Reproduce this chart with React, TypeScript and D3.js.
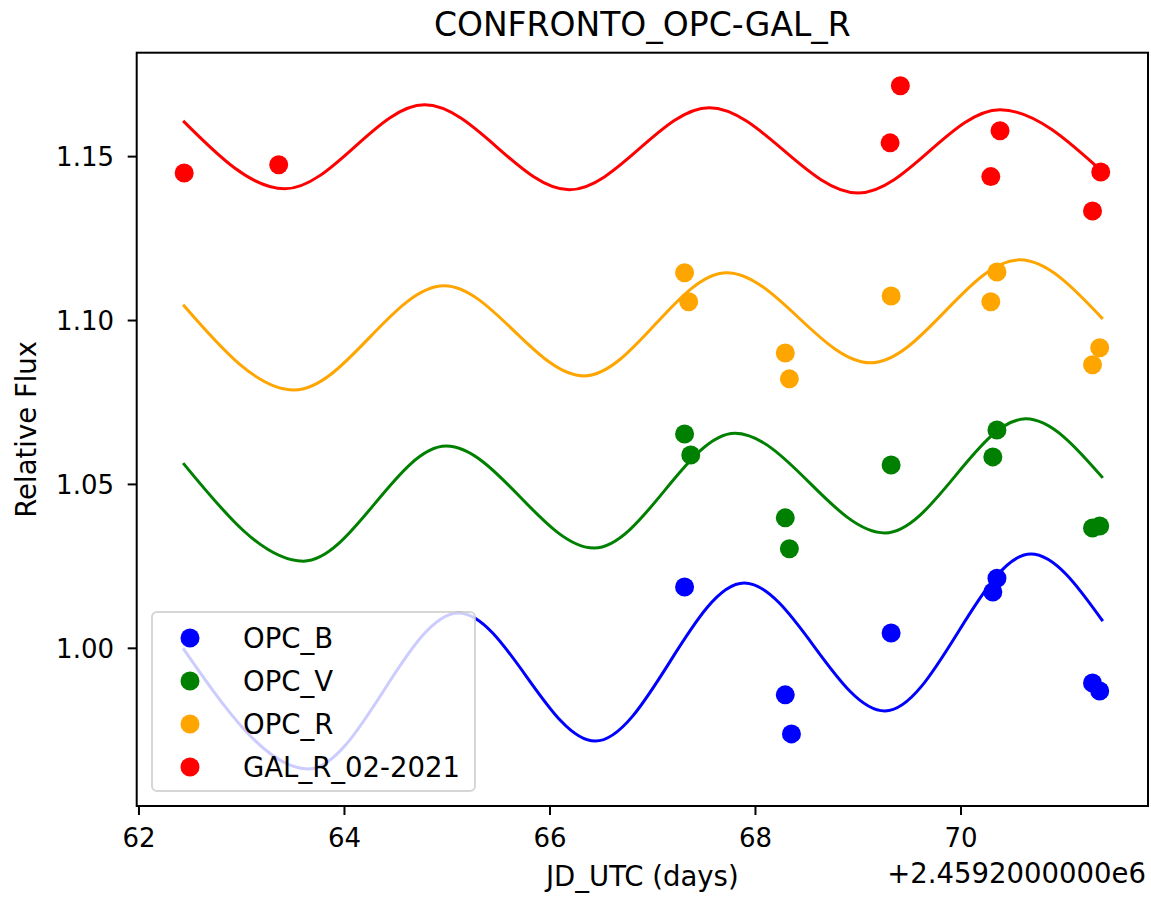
import React from "react";
import * as d3 from "d3";

// Observation epochs (JD - 2459200) and relative flux per filter
const B_DATES = [67.31, 68.29, 68.35, 69.32, 70.31, 70.35, 71.28, 71.35];
const B_FLUX = [1.0187, 0.9858, 0.9739, 1.0047, 1.0172, 1.0214, 0.9894, 0.987];

const V_DATES = [67.31, 67.37, 68.29, 68.33, 69.32, 70.31, 70.35, 71.28, 71.35];
const V_FLUX = [1.0654, 1.059, 1.0398, 1.0304, 1.0559, 1.0584, 1.0666, 1.0367, 1.0373];

const R_DATES = [67.31, 67.35, 68.29, 68.33, 69.32, 70.29, 70.35, 71.28, 71.35];
const R_FLUX = [1.1146, 1.1057, 1.0901, 1.0822, 1.1075, 1.1057, 1.1148, 1.0865, 1.0917];

const GAL_DATES = [62.44, 63.36, 69.31, 69.41, 70.29, 70.38, 71.28, 71.36];
const GAL_FLUX = [1.145, 1.1475, 1.1542, 1.1716, 1.1439, 1.1579, 1.1334, 1.1453];

// Model curves: turning points and end points of each fitted light curve
const B_MODEL_T = [62.43, 63.65, 65.11, 66.44, 67.89, 69.26, 70.68, 71.38];
const B_MODEL_F = [1.0, 0.9632, 1.0108, 0.9717, 1.0199, 0.9809, 1.0288, 1.0083];

const V_MODEL_T = [62.43, 63.6, 64.99, 66.43, 67.8, 69.26, 70.63, 71.38];
const V_MODEL_F = [1.0565, 1.0266, 1.0617, 1.0306, 1.0656, 1.0352, 1.07, 1.052];

const R_MODEL_T = [62.43, 63.51, 64.97, 66.33, 67.72, 69.12, 70.57, 71.38];
const R_MODEL_F = [1.1048, 1.0788, 1.1106, 1.0831, 1.1146, 1.0871, 1.1185, 1.1005];

const GAL_MODEL_T = [62.43, 63.42, 64.78, 66.19, 67.55, 69.0, 70.38, 71.38];
const GAL_MODEL_F = [1.1609, 1.1402, 1.1658, 1.1399, 1.1649, 1.1389, 1.1643, 1.1453];

const X_TICKS = [62, 64, 66, 68, 70];
const Y_TICKS = [1.0, 1.05, 1.1, 1.15];

const SERIES = [
  { name: "OPC_B", color: "blue", dates: B_DATES, flux: B_FLUX, mt: B_MODEL_T, mf: B_MODEL_F },
  { name: "OPC_V", color: "green", dates: V_DATES, flux: V_FLUX, mt: V_MODEL_T, mf: V_MODEL_F },
  { name: "OPC_R", color: "orange", dates: R_DATES, flux: R_FLUX, mt: R_MODEL_T, mf: R_MODEL_F },
  { name: "GAL_R_02-2021", color: "red", dates: GAL_DATES, flux: GAL_FLUX, mt: GAL_MODEL_T, mf: GAL_MODEL_F },
];

const W = 1151;
const H = 899;
const M = { left: 136.7, right: 1148, top: 52.7, bottom: 806 };
const FONT = "DejaVu Sans, sans-serif";
const TICK_FS = 26;
const LABEL_FS = 27.5;
const TITLE_FS = 33;

export default function App() {
  const x = d3.scaleLinear().domain([61.978, 71.82]).range([M.left, M.right]);
  const y = d3.scaleLinear().domain([0.9519, 1.1817]).range([M.bottom, M.top]);

  const line = d3
    .line<[number, number]>()
    .x((d) => x(d[0]))
    .y((d) => y(d[1]))
    .curve(d3.curveMonotoneX);

  const cx = (M.left + M.right) / 2;
  const cy = (M.top + M.bottom) / 2;

  const legendX = 152;
  const legendY = 612;
  const rowGap = 43;

  return (
    <div style={{ position: "absolute", left: 0, top: 0 }}>
      <svg width={W} height={H} style={{ display: "block", background: "#fff" }} fontFamily={FONT}>
        <rect x={0} y={0} width={W} height={H} fill="#fff" />

        {/* fitted curves */}
        {SERIES.map((s) => (
          <path
            key={"l" + s.name}
            d={line(s.mt.map((t, i) => [t, s.mf[i]] as [number, number])) || ""}
            fill="none"
            stroke={s.color}
            strokeWidth={3}
            strokeLinejoin="round"
          />
        ))}

        {/* observations */}
        {SERIES.map((s) => (
          <g key={"p" + s.name}>
            {s.dates.map((t, i) => (
              <circle key={i} cx={x(t)} cy={y(s.flux[i])} r={9.5} fill={s.color} />
            ))}
          </g>
        ))}

        {/* legend */}
        <rect
          x={legendX}
          y={legendY}
          width={323}
          height={179}
          rx={5}
          fill="#fff"
          fillOpacity={0.8}
          stroke="#cccccc"
          strokeOpacity={0.8}
          strokeWidth={2}
        />
        {SERIES.map((s, i) => (
          <g key={"g" + s.name}>
            <circle cx={190} cy={638 + i * rowGap} r={9.5} fill={s.color} />
            <text x={243} y={638 + i * rowGap + 10} fontSize={LABEL_FS} fill="#000">
              {s.name}
            </text>
          </g>
        ))}

        {/* axes frame */}
        <rect
          x={M.left}
          y={M.top}
          width={M.right - M.left}
          height={M.bottom - M.top}
          fill="none"
          stroke="#000"
          strokeWidth={2}
        />

        {/* x ticks */}
        {X_TICKS.map((t) => (
          <g key={"xt" + t}>
            <line x1={x(t)} x2={x(t)} y1={M.bottom} y2={M.bottom + 9} stroke="#000" strokeWidth={2} />
            <text x={x(t)} y={847} fontSize={TICK_FS} textAnchor="middle" fill="#000">
              {t}
            </text>
          </g>
        ))}
        <text x={1146} y={883} fontSize={LABEL_FS} textAnchor="end" fill="#000">
          +2.4592000000e6
        </text>

        {/* y ticks */}
        {Y_TICKS.map((t) => (
          <g key={"yt" + t}>
            <line x1={M.left - 9} x2={M.left} y1={y(t)} y2={y(t)} stroke="#000" strokeWidth={2} />
            <text x={114} y={y(t) + 9.5} fontSize={TICK_FS} textAnchor="end" fill="#000">
              {d3.format(".2f")(t)}
            </text>
          </g>
        ))}

        {/* labels */}
        <text x={cx} y={886} fontSize={LABEL_FS} textAnchor="middle" fill="#000">
          JD_UTC (days)
        </text>
        <text
          transform={`translate(36, ${cy}) rotate(-90)`}
          fontSize={LABEL_FS}
          textAnchor="middle"
          fill="#000"
        >
          Relative Flux
        </text>
        <text x={cx} y={36} fontSize={TITLE_FS} textAnchor="middle" fill="#000">
          CONFRONTO_OPC-GAL_R
        </text>
      </svg>
    </div>
  );
}
